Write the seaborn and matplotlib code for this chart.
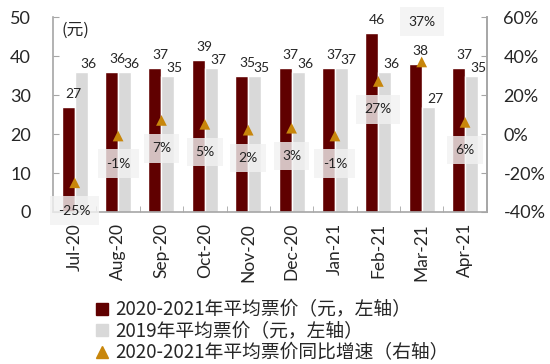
import numpy as np
import pandas as pd
import matplotlib
matplotlib.use("Agg")
import matplotlib.pyplot as plt
import seaborn as sns
from matplotlib.lines import Line2D

months = ["Jul-20", "Aug-20", "Sep-20", "Oct-20", "Nov-20", "Dec-20",
          "Jan-21", "Feb-21", "Mar-21", "Apr-21"]
price_2021 = [27, 36, 37, 39, 35, 37, 37, 46, 38, 37]
price_2019 = [36, 36, 35, 37, 35, 36, 37, 36, 27, 35]
yoy = [-25, -1, 7, 5, 2, 3, -1, 27, 37, 6]
left_ticks = [0, 10, 20, 30, 40, 50]
right_ticks = [-40, -20, 0, 20, 40, 60]

name_a = "2020-2021年平均票价（元，左轴）"
name_b = "2019年平均票价（元，左轴）"
name_c = "2020-2021年平均票价同比增速（右轴）"

sns.set_style("white")
plt.rcParams['font.family'] = ['Lato', 'Noto Sans CJK SC', 'DejaVu Sans']

c_dark = "#600000"
c_gray = "#d9d9d9"
c_tri = "#c8860b"
c_spine = "#a6a6a6"

df = pd.DataFrame({
    "month": months * 2,
    "price": price_2021 + price_2019,
    "series": [name_a] * len(months) + [name_b] * len(months),
})

fig = plt.figure(figsize=(5.5, 3.64), dpi=100)
ax = fig.add_axes([0.0964, 0.4176, 0.885 - 0.0964, 0.953 - 0.4176])
sns.barplot(data=df, x="month", y="price", hue="series", order=months,
            hue_order=[name_a, name_b], palette=[c_dark, c_gray],
            width=0.6, gap=0, ax=ax, legend=False, saturation=1)
ax.set_xlim(-0.5, len(months) - 0.5)
ax.set_ylim(0, 50)
ax.set_yticks(left_ticks)
ax.set_xlabel("")
ax.set_ylabel("")
ax.set_xticks(range(len(months)))
ax.set_xticklabels(months, rotation=90, fontsize=12.5)
ax.tick_params(axis='x', length=0, pad=8)
ax.set_xticks(np.arange(-0.5, len(months) + 0.5, 1), minor=True)
ax.tick_params(axis='x', which='minor', direction='in', length=4, color=c_spine, bottom=True)
ax.tick_params(axis='y', direction='in', length=4, color=c_spine, labelsize=13, pad=16, left=True)
ax.spines["top"].set_visible(False)
for s in ["left", "bottom", "right"]:
    ax.spines[s].set_color(c_spine)
    ax.spines[s].set_linewidth(1.2)

# bar value labels
for i in range(len(months)):
    ax.annotate(f"{price_2021[i]}", (i - 0.15, price_2021[i]), xytext=(4, 5),
                textcoords="offset points", ha="center", va="bottom", fontsize=10)
    ax.annotate(f"{price_2019[i]}", (i + 0.15, price_2019[i]), xytext=(5, 1),
                textcoords="offset points", ha="center", va="bottom", fontsize=10)

ax.text(0.02, 0.93, "(元)", transform=ax.transAxes, fontsize=12,
        family=['Noto Sans CJK SC', 'DejaVu Sans'], va="center")

ax2 = ax.twinx()
sns.scatterplot(x=np.arange(len(months)), y=yoy, marker="^", s=60,
                color=c_tri, edgecolor="none", ax=ax2, zorder=5)
ax2.set_ylim(-40, 60)
ax2.set_yticks(right_ticks)
ax2.set_yticklabels([f"{v}%" for v in right_ticks])
ax2.tick_params(axis='y', direction='in', length=4, color=c_spine, labelsize=13, pad=12, right=True)
for s in ["top", "left", "bottom"]:
    ax2.spines[s].set_visible(False)
ax2.spines["right"].set_color(c_spine)
ax2.spines["right"].set_linewidth(1.2)
ax2.set_xlim(-0.5, len(months) - 0.5)

for i, v in enumerate(yoy):
    above = v == max(yoy)
    ax2.annotate(f"{v}%", (i, v), xytext=(0, 29 if above else -20),
                 textcoords="offset points", ha="center", va="center", fontsize=10,
                 color="#222222",
                 bbox=dict(boxstyle="square,pad=0.6", fc="#f2f2f2", ec="none", alpha=0.8),
                 zorder=6)

handles = [
    Line2D([], [], marker="s", ls="none", color=c_dark, markersize=8),
    Line2D([], [], marker="s", ls="none", color=c_gray, markersize=8),
    Line2D([], [], marker="^", ls="none", color=c_tri, markersize=8),
]
fig.legend(handles, [name_a, name_b, name_c], loc="upper left",
           bbox_to_anchor=(0.155, 0.198), frameon=False, handletextpad=0.2,
           labelspacing=0.03, handlelength=1.0, borderaxespad=0,
           prop=dict(family=['Noto Sans CJK SC', 'DejaVu Sans'], size=13.5))

fig.savefig("out.png", dpi=100)
